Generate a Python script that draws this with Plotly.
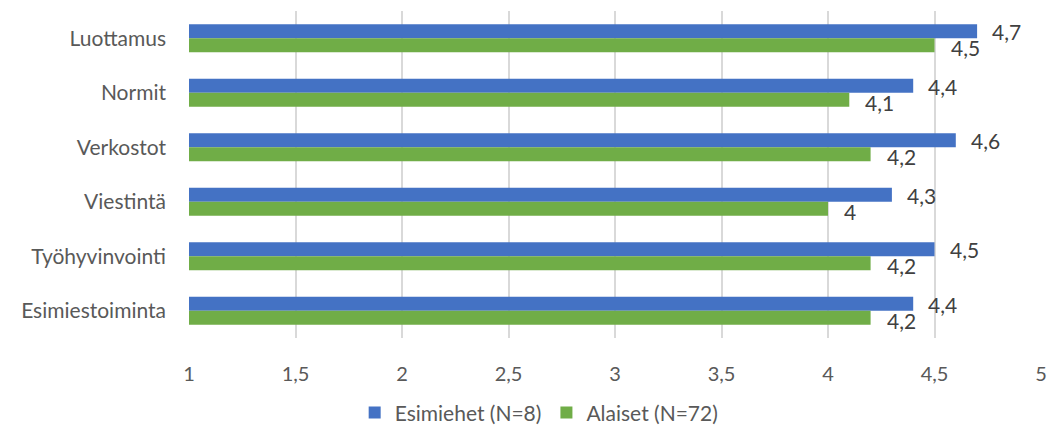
import plotly.graph_objects as go

categories = ["Luottamus", "Normit", "Verkostot", "Viestintä", "Työhyvinvointi", "Esimiestoiminta"]
esimiehet = [4.7, 4.4, 4.6, 4.3, 4.5, 4.4]
alaiset = [4.5, 4.1, 4.2, 4.0, 4.2, 4.2]
series_names = ["Esimiehet (N=8)", "Alaiset (N=72)"]
x_ticks = [1, 1.5, 2, 2.5, 3, 3.5, 4, 4.5, 5]


def fi(v):
    s = f"{v:g}"
    return s.replace(".", ",")


FONT = "Lato, Noto Sans, sans-serif"
AXIS_COLOR = "#595959"
LABEL_COLOR = "#404040"

fig = go.Figure()
fig.add_trace(go.Bar(y=categories, x=esimiehet, orientation="h", name=series_names[0],
                     marker=dict(color="#4472C4", line=dict(width=0))))
fig.add_trace(go.Bar(y=categories, x=alaiset, orientation="h", name=series_names[1],
                     marker=dict(color="#70AD47", line=dict(width=0))))

# value labels placed just past each bar end
annotations = []
for i, (a, b) in enumerate(zip(esimiehet, alaiset)):
    annotations.append(dict(x=a, y=i - 0.12, xref="x", yref="y", text=fi(a), showarrow=False,
                            xanchor="left", yanchor="middle", xshift=13,
                            font=dict(family=FONT, size=21, color=LABEL_COLOR)))
    annotations.append(dict(x=b, y=i + 0.17, xref="x", yref="y", text=fi(b), showarrow=False,
                            xanchor="left", yanchor="middle", xshift=14,
                            font=dict(family=FONT, size=21, color=LABEL_COLOR)))

fig.update_layout(
    width=1051, height=430,
    margin=dict(l=189, r=10, t=11, b=92, autoexpand=False),
    barmode="group", bargap=0.49, bargroupgap=0,
    plot_bgcolor="white", paper_bgcolor="white",
    font=dict(family=FONT, size=20, color=AXIS_COLOR),
    xaxis=dict(range=[1, 5], tickvals=x_ticks, ticktext=[fi(v) for v in x_ticks],
               showgrid=True, gridcolor="#d9d9d9", gridwidth=1.5, zeroline=False,
               showline=False, ticks="", ticklabelstandoff=22, automargin=False,
               tickfont=dict(family=FONT, size=20, color=AXIS_COLOR)),
    yaxis=dict(type="category", autorange="reversed", showgrid=False, showline=False,
               ticks="", ticklabelstandoff=22, automargin=False,
               tickfont=dict(family=FONT, size=21, color=AXIS_COLOR)),
    legend=dict(orientation="h", x=0.411, xanchor="center", y=-0.229, yanchor="middle",
                font=dict(family=FONT, size=21, color=AXIS_COLOR), traceorder="normal"),
    annotations=annotations,
)

fig.write_html("out.html")
